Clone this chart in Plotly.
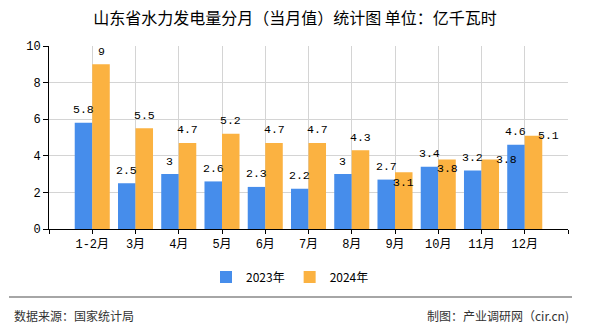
import plotly.graph_objects as go

months = ["1-2月", "3月", "4月", "5月", "6月", "7月", "8月", "9月", "10月", "11月", "12月"]
y2023 = [5.8, 2.5, 3, 2.6, 2.3, 2.2, 3, 2.7, 3.4, 3.2, 4.6]
y2024 = [9, 5.5, 4.7, 5.2, 4.7, 4.7, 4.3, 3.1, 3.8, 3.8, 5.1]
series_names = ["2023年", "2024年"]
colors = ["#468DEB", "#FBB241"]

# label pixel offsets (style): (series index, category index) -> (xshift, yshift)
label_offsets = {(1, 7): (0, -10), (1, 8): (0, -9), (1, 9): (16, 0), (1, 10): (15, 0)}

BARGAP = 0.19
bw = (1 - BARGAP) / 2
xs = list(range(len(months)))

fig = go.Figure()
for si, (name, vals) in enumerate(zip(series_names, [y2023, y2024])):
    fig.add_trace(go.Bar(x=xs, y=vals, name=name, marker=dict(color=colors[si], line=dict(width=0))))

num_font = dict(family="Liberation Mono, Noto Sans CJK SC", size=11.5, color="#000")
annotations = []
for si, vals in enumerate([y2023, y2024]):
    for ci, v in enumerate(vals):
        xc = ci + (si - 0.5) * bw
        dx, dy = label_offsets.get((si, ci), (0, 13))
        annotations.append(dict(x=xc, y=v, xref="x", yref="y", text=f"{v:g}", showarrow=False,
                                xanchor="center", yanchor="middle", xshift=dx, yshift=dy, font=num_font))

L, R, T, B = 49, 22, 46, 101
W, H = 590, 330
ph = H - T - B
pw = W - L - R

def px_x(p):
    return (p - L) / pw

def px_y(p):
    return (H - B - p) / ph

annotations.append(dict(x=px_x(12), y=px_y(315), xref="paper", yref="paper", text="数据来源：国家统计局",
                        showarrow=False, xanchor="left", yanchor="middle",
                        font=dict(family="Noto Sans CJK SC", size=12, color="#333")))
annotations.append(dict(x=px_x(571), y=px_y(315), xref="paper", yref="paper", text="制图：产业调研网（cir.cn)",
                        showarrow=False, xanchor="right", yanchor="middle",
                        font=dict(family="Noto Sans CJK SC", size=12, color="#333")))

fig.update_layout(
    width=W, height=H,
    margin=dict(l=L, r=R, t=T, b=B, pad=0),
    paper_bgcolor="white", plot_bgcolor="white",
    barmode="group", bargap=BARGAP, bargroupgap=0,
    title=dict(text="山东省水力发电量分月（当月值）统计图 单位：亿千瓦时", x=0.5, xref="container",
               xanchor="center", y=1 - 18 / H, yref="container", yanchor="middle",
               font=dict(family="Noto Sans CJK SC", size=16, color="#000")),
    xaxis=dict(range=[-1, len(months)], tickmode="array", tickvals=list(range(-1, len(months) + 1)),
               ticktext=[""] + months + [""], showgrid=True, gridcolor="#d4d4d4", gridwidth=1,
               showline=True, linecolor="#000", linewidth=1, ticks="outside", ticklen=4, tickcolor="#000",
               zeroline=False, tickfont=dict(family="Liberation Mono, Noto Sans CJK SC", size=12, color="#000")),
    yaxis=dict(range=[0, 10], dtick=2, tick0=0, showgrid=True, gridcolor="#d4d4d4", gridwidth=1,
               showline=True, linecolor="#000", linewidth=1, ticks="outside", ticklen=5, tickcolor="#000",
               zeroline=False, tickfont=dict(family="Liberation Mono", size=12, color="#000")),
    legend=dict(orientation="h", x=px_x(290), xanchor="center", y=px_y(277), yanchor="middle",
                font=dict(family="Noto Sans CJK SC", size=12, color="#000"), itemwidth=30,
                bgcolor="rgba(0,0,0,0)"),
    annotations=annotations,
    shapes=[dict(type="line", xref="paper", yref="paper", x0=px_x(9), x1=px_x(572), y0=px_y(297), y1=px_y(297),
                 line=dict(color="#888", width=1.5))],
    showlegend=True,
)

fig.write_html("out.html")
